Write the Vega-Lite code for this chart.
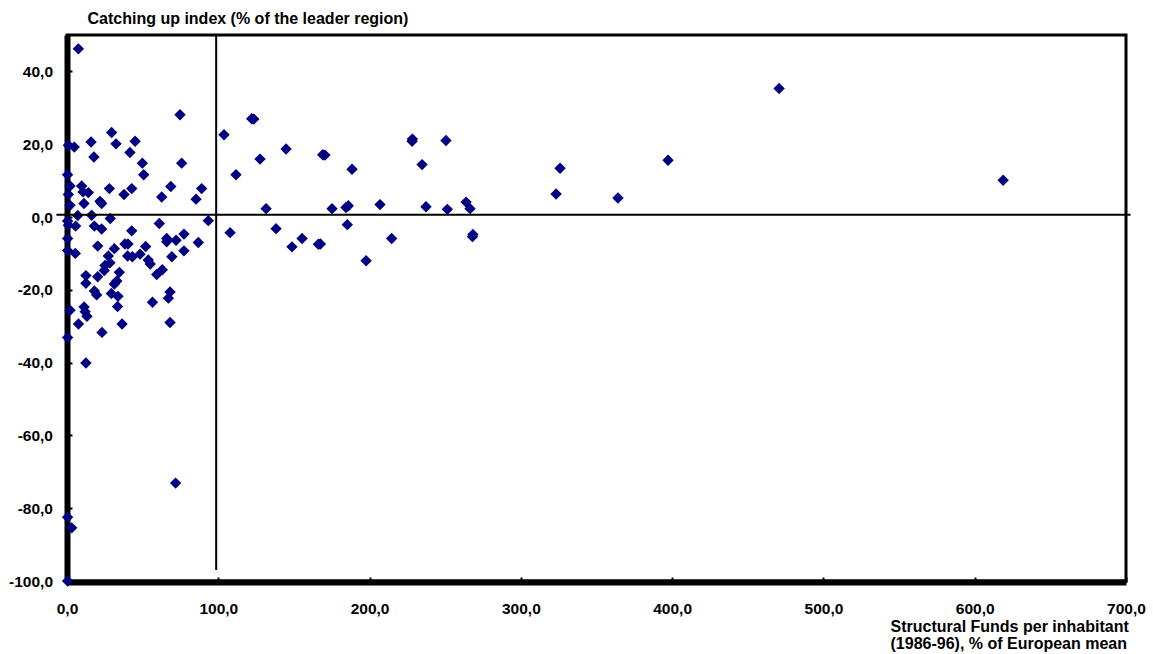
{
  "$schema": "https://vega.github.io/schema/vega-lite/v6.json",
  "width": 1059,
  "height": 546,
  "autosize": "none",
  "padding": {"left": 67, "top": 35, "right": 27, "bottom": 73},
  "background": "white",
  "config": {
    "view": {"stroke": "black", "strokeWidth": 3},
    "font": "Liberation Sans",
    "axis": {
      "labelFont": "Liberation Sans",
      "labelFontWeight": "bold",
      "labelFontSize": 15.5,
      "labelColor": "black",
      "labelOverlap": false,
      "labelFlush": false,
      "domain": true,
      "domainColor": "black",
      "domainWidth": 6,
      "domainOpacity": 1,
      "tickColor": "black",
      "tickSize": -5,
      "tickWidth": 2,
      "grid": false,
      "titleFont": "Liberation Sans",
      "titleFontWeight": "bold",
      "titleFontSize": 16,
      "titleColor": "black",
      "zindex": 1
    }
  },
  "layer": [
    {
      "data": {
        "values": [
          {"funds": 7.5, "catchup": 46.2}, {"funds": 74.7, "catchup": 28.1}, {"funds": 29.5, "catchup": 23.2},
          {"funds": 0.9, "catchup": 19.7}, {"funds": 4.8, "catchup": 19.2}, {"funds": 15.9, "catchup": 20.6},
          {"funds": 32.4, "catchup": 20.1}, {"funds": 45.0, "catchup": 20.8}, {"funds": 41.6, "catchup": 17.7},
          {"funds": 17.8, "catchup": 16.5}, {"funds": 49.8, "catchup": 14.8}, {"funds": 75.8, "catchup": 14.8},
          {"funds": 50.7, "catchup": 11.6}, {"funds": 0.4, "catchup": 11.6}, {"funds": 2.0, "catchup": 8.5},
          {"funds": 9.7, "catchup": 8.5}, {"funds": 0.9, "catchup": 6.2}, {"funds": 10.6, "catchup": 6.9},
          {"funds": 14.1, "catchup": 6.7}, {"funds": 28.0, "catchup": 7.8}, {"funds": 42.8, "catchup": 7.8},
          {"funds": 37.7, "catchup": 6.2}, {"funds": 68.6, "catchup": 8.4}, {"funds": 89.0, "catchup": 7.8},
          {"funds": 62.6, "catchup": 5.5}, {"funds": 85.3, "catchup": 4.9}, {"funds": 2.0, "catchup": 3.2},
          {"funds": 11.2, "catchup": 3.7}, {"funds": 21.8, "catchup": 4.3}, {"funds": 22.9, "catchup": 3.7},
          {"funds": 7.1, "catchup": 0.4}, {"funds": 16.3, "catchup": 0.5}, {"funds": 28.6, "catchup": -0.4},
          {"funds": 61.0, "catchup": -1.8}, {"funds": 93.4, "catchup": -1.0}, {"funds": 0.4, "catchup": -1.1},
          {"funds": 0.9, "catchup": -2.3}, {"funds": 5.7, "catchup": -2.5}, {"funds": 18.1, "catchup": -2.5},
          {"funds": 22.9, "catchup": -3.3}, {"funds": 42.8, "catchup": -3.8}, {"funds": 0.4, "catchup": -5.9},
          {"funds": 20.3, "catchup": -8.0}, {"funds": 31.3, "catchup": -8.7}, {"funds": 38.3, "catchup": -7.4},
          {"funds": 40.3, "catchup": -7.4}, {"funds": 52.0, "catchup": -8.1}, {"funds": 65.9, "catchup": -5.9},
          {"funds": 65.9, "catchup": -6.8}, {"funds": 72.1, "catchup": -6.4}, {"funds": 77.3, "catchup": -4.7},
          {"funds": 86.8, "catchup": -7.0}, {"funds": 77.3, "catchup": -9.3}, {"funds": 69.3, "catchup": -10.9},
          {"funds": 0.4, "catchup": -9.2}, {"funds": 5.5, "catchup": -10.0}, {"funds": 27.3, "catchup": -10.7},
          {"funds": 40.1, "catchup": -10.7}, {"funds": 43.2, "catchup": -10.9}, {"funds": 48.3, "catchup": -10.2},
          {"funds": 28.4, "catchup": -12.6}, {"funds": 25.1, "catchup": -13.3}, {"funds": 24.6, "catchup": -14.7},
          {"funds": 53.7, "catchup": -11.8}, {"funds": 55.0, "catchup": -12.9}, {"funds": 63.0, "catchup": -14.5},
          {"funds": 59.3, "catchup": -15.8}, {"funds": 34.6, "catchup": -15.2}, {"funds": 20.3, "catchup": -16.4},
          {"funds": 12.5, "catchup": -16.1}, {"funds": 12.5, "catchup": -18.2}, {"funds": 32.9, "catchup": -17.6},
          {"funds": 31.3, "catchup": -18.4}, {"funds": 18.1, "catchup": -20.3}, {"funds": 19.6, "catchup": -21.4},
          {"funds": 29.3, "catchup": -21.0}, {"funds": 33.7, "catchup": -21.8}, {"funds": 33.4, "catchup": -24.6},
          {"funds": 68.1, "catchup": -20.6}, {"funds": 67.0, "catchup": -22.3}, {"funds": 56.5, "catchup": -23.4},
          {"funds": 2.0, "catchup": -25.6}, {"funds": 11.3, "catchup": -24.7}, {"funds": 12.0, "catchup": -26.0},
          {"funds": 13.2, "catchup": -27.3}, {"funds": 7.6, "catchup": -29.4}, {"funds": 36.4, "catchup": -29.4},
          {"funds": 68.1, "catchup": -29.0}, {"funds": 23.1, "catchup": -31.7}, {"funds": 0.4, "catchup": -33.1},
          {"funds": 12.5, "catchup": -40.1}, {"funds": 71.8, "catchup": -73.1}, {"funds": 0.4, "catchup": -82.5},
          {"funds": 3.1, "catchup": -85.4}, {"funds": 0.4, "catchup": -100.0},
          {"funds": 122.1, "catchup": 27.0}, {"funds": 123.5, "catchup": 26.9}, {"funds": 103.8, "catchup": 22.6},
          {"funds": 111.7, "catchup": 11.6}, {"funds": 127.6, "catchup": 15.9}, {"funds": 144.8, "catchup": 18.7},
          {"funds": 169.0, "catchup": 17.1}, {"funds": 170.5, "catchup": 17.0}, {"funds": 188.4, "catchup": 13.1},
          {"funds": 228.1, "catchup": 20.8}, {"funds": 228.3, "catchup": 21.4}, {"funds": 250.5, "catchup": 21.0},
          {"funds": 234.7, "catchup": 14.4}, {"funds": 131.6, "catchup": 2.3}, {"funds": 175.2, "catchup": 2.3},
          {"funds": 184.4, "catchup": 2.6}, {"funds": 186.0, "catchup": 3.1}, {"funds": 206.9, "catchup": 3.4},
          {"funds": 237.3, "catchup": 2.8}, {"funds": 251.4, "catchup": 2.1}, {"funds": 263.8, "catchup": 4.1},
          {"funds": 266.4, "catchup": 2.3}, {"funds": 268.0, "catchup": -5.4}, {"funds": 268.3, "catchup": -4.8},
          {"funds": 107.8, "catchup": -4.3}, {"funds": 138.2, "catchup": -3.2}, {"funds": 148.7, "catchup": -8.2},
          {"funds": 155.4, "catchup": -5.9}, {"funds": 166.2, "catchup": -7.5}, {"funds": 167.5, "catchup": -7.4},
          {"funds": 185.3, "catchup": -2.1}, {"funds": 214.6, "catchup": -5.9}, {"funds": 197.7, "catchup": -12.0},
          {"funds": 618.8, "catchup": 10.1}, {"funds": 470.7, "catchup": 35.3}, {"funds": 397.3, "catchup": 15.6},
          {"funds": 364.2, "catchup": 5.2}, {"funds": 325.9, "catchup": 13.4}, {"funds": 323.3, "catchup": 6.3}
        ]
      },
      "mark": {"type": "point", "shape": "diamond", "filled": true, "size": 130, "color": "#000080", "opacity": 1},
      "encoding": {
        "x": {
          "field": "funds",
          "type": "quantitative",
          "scale": {"domain": [0, 700], "nice": false, "zero": false},
          "axis": {
            "values": [0, 100, 200, 300, 400, 500, 600, 700],
            "labelExpr": "replace(replace(format(datum.value, '.1f'), '.', ','), '\u2212', '-')",
            "labelBaseline": "alphabetic",
            "labelPadding": 36,
            "offset": 1,
            "domainWidth": 6,
            "title": ["Structural Funds per inhabitant", "(1986-96), % of European mean"],
            "titleAlign": "left",
            "titleAnchor": null,
            "titleBaseline": "alphabetic",
            "titleX": 823,
            "titleY": 49,
            "titleLineHeight": 17
          }
        },
        "y": {
          "field": "catchup",
          "type": "quantitative",
          "scale": {"domain": [-100, 50], "nice": false, "zero": false},
          "axis": {
            "values": [-100, -80, -60, -40, -20, 0, 20, 40],
            "labelExpr": "replace(replace(format(datum.value, '.1f'), '.', ','), '\u2212', '-')",
            "labelPadding": 19.5,
            "domainWidth": 6,
            "title": "Catching up index (% of the leader region)",
            "titleAngle": 0,
            "titleAlign": "left",
            "titleAnchor": null,
            "titleBaseline": "alphabetic",
            "titleX": 20,
            "titleY": -11.5
          }
        }
      }
    },
    {
      "data": {"values": [{}]},
      "mark": {"type": "rule", "color": "black", "strokeWidth": 2},
      "encoding": {
        "y": {"datum": 0.65, "type": "quantitative"},
        "x": {"datum": -7, "type": "quantitative"},
        "x2": {"datum": 703}
      }
    },
    {
      "data": {"values": [{}]},
      "mark": {"type": "rule", "color": "black", "strokeWidth": 2},
      "encoding": {
        "x": {"datum": 98.6, "type": "quantitative"},
        "y": {"datum": 50, "type": "quantitative"},
        "y2": {"datum": -97}
      }
    }
  ]
}
